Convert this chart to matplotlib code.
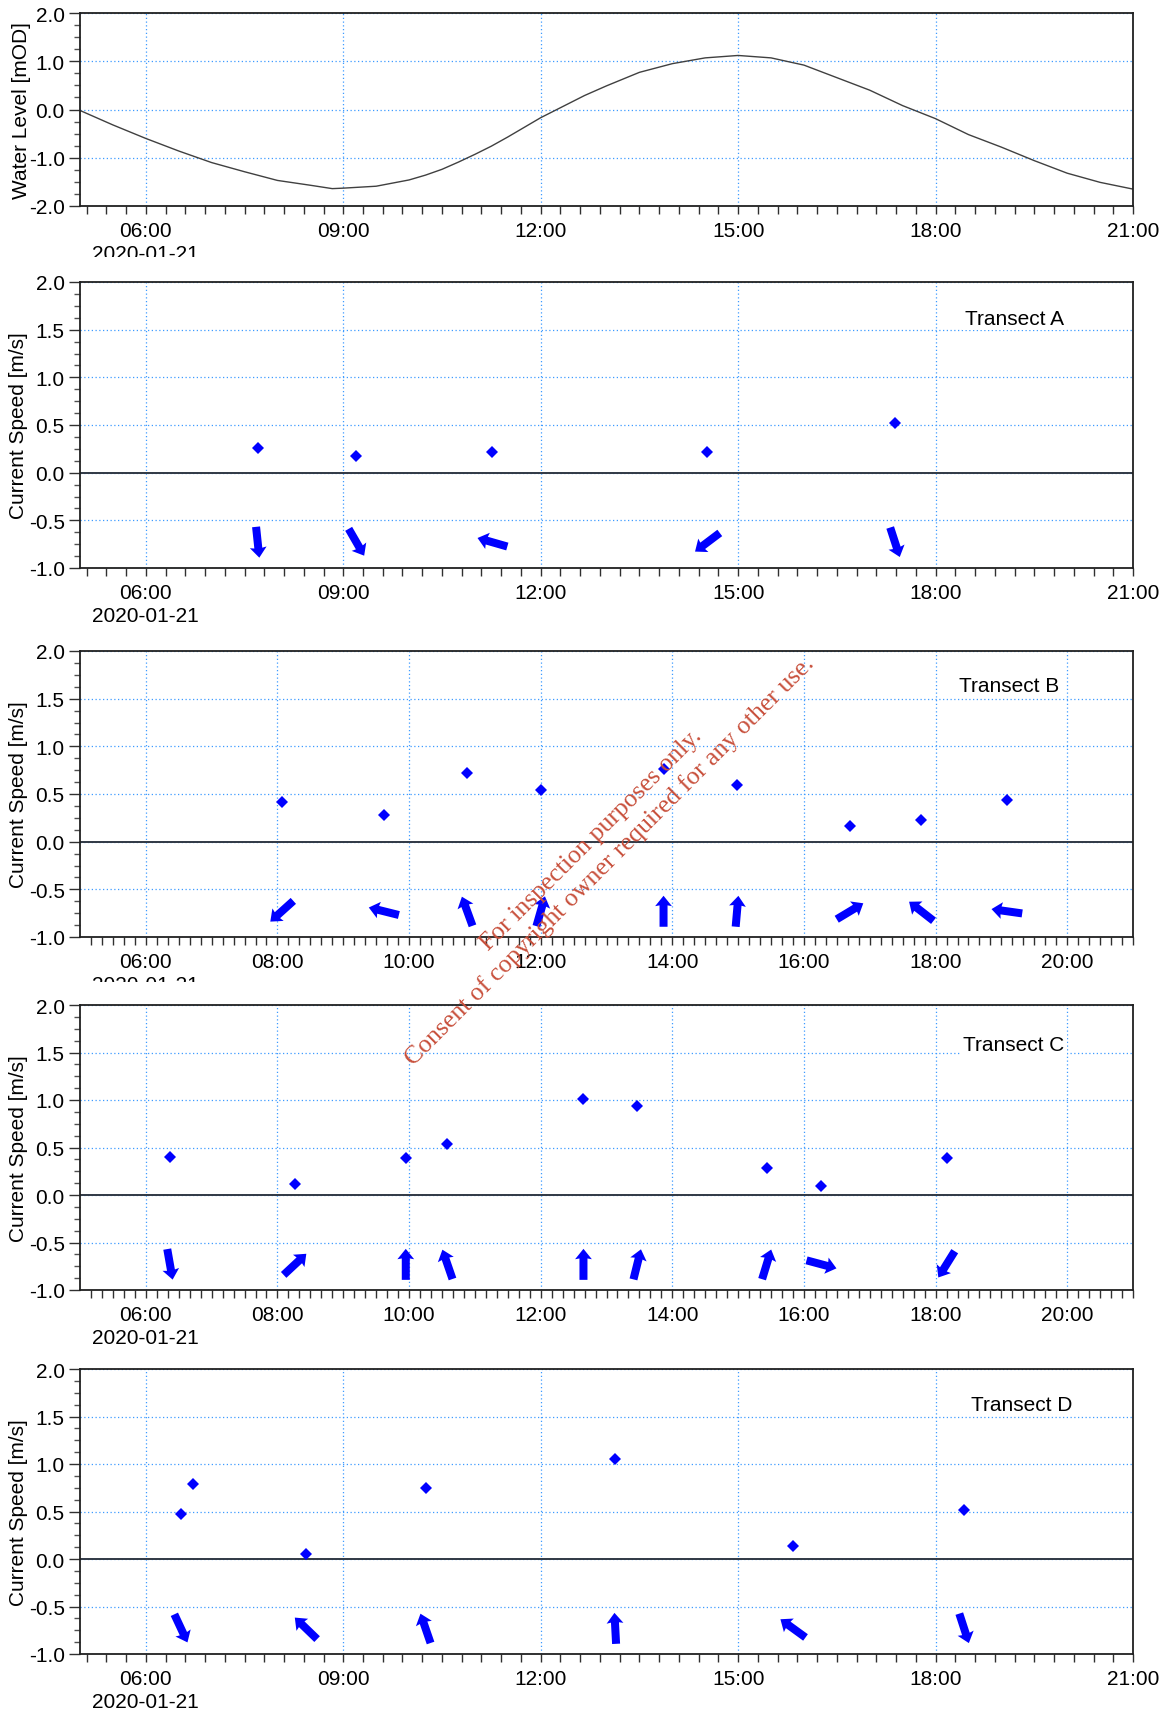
import numpy as np
import pandas as pd
import matplotlib
matplotlib.use('Agg')
import matplotlib.pyplot as plt
import matplotlib.dates as mdates
import matplotlib.ticker as mticker
from matplotlib.patches import Rectangle

plt.rcParams['font.family'] = ['Liberation Sans', 'DejaVu Sans']
plt.rcParams['axes.unicode_minus'] = False

DAY = '2020-01-21 '

# water level (mOD)
level_times = ['05:00', '05:30', '06:00', '06:30', '07:00', '07:30', '08:00', '08:30',
               '08:50', '09:00', '09:30', '10:00', '10:15', '10:30', '10:45', '11:00',
               '11:15', '11:30', '12:00', '12:20', '12:40', '13:00', '13:30', '14:00',
               '14:30', '15:00', '15:30', '16:00', '16:30', '17:00', '17:30', '18:00',
               '18:30', '19:00', '19:30', '20:00', '20:30', '21:00']
level_values = [-0.02, -0.32, -0.60, -0.86, -1.10, -1.29, -1.47, -1.57,
                -1.64, -1.63, -1.59, -1.46, -1.36, -1.24, -1.09, -0.93,
                -0.76, -0.57, -0.17, 0.06, 0.29, 0.49, 0.77, 0.95,
                1.07, 1.12, 1.07, 0.92, 0.66, 0.40, 0.08, -0.19,
                -0.52, -0.78, -1.06, -1.32, -1.51, -1.65]

# transects: time, speed (m/s), direction (deg from north)
a_times = ['07:42', '09:12', '11:16', '14:32', '17:23']
a_speed = [0.26, 0.18, 0.22, 0.22, 0.52]
a_dir = [174, 150, 286, 233, 162]

b_times = ['08:04', '09:37', '10:53', '12:00', '13:52', '14:59', '16:42', '17:47', '19:05']
b_speed = [0.42, 0.28, 0.72, 0.54, 0.76, 0.59, 0.16, 0.23, 0.44]
b_dir = [228, 284, 340, 16, 0, 5, 59, 308, 278]

c_times = ['06:22', '08:16', '09:57', '10:35', '12:39', '13:28', '15:26', '16:16', '18:10']
c_speed = [0.40, 0.12, 0.39, 0.54, 1.01, 0.94, 0.28, 0.10, 0.39]
c_dir = [170, 47, 0, 341, 0, 14, 17, 105, 212]

d_times = ['06:32', '06:43', '08:26', '10:15', '13:08', '15:50', '18:26']
d_speed = [0.47, 0.79, 0.05, 0.75, 1.05, 0.14, 0.52]
d_dir = [155, np.nan, 314, 341, 357, 306, 162]

labels = ['Transect A', 'Transect B', 'Transect C', 'Transect D']


def to_num(times):
    return mdates.date2num(pd.to_datetime([DAY + t for t in times]))


def time_label(x, pos):
    minutes = int(round((x - np.floor(x)) * 1440)) % 1440
    return '%02d:%02d' % (minutes // 60, minutes % 60)


W, H = 1164, 1715
FS = 15
fig = plt.figure(figsize=(W / 100, H / 100), dpi=100)
t0, t1 = to_num(['05:00', '21:00'])
t6 = to_num(['06:00'])[0]
grid_col = '#3d9bff'


def make_axes(top, bottom, ylim, ymaj, ymin, hour_step, minor_step, first_minor):
    ax = fig.add_axes([80 / W, 1 - bottom / H, 1053 / W, (bottom - top) / H])
    ax.set_xlim(t0, t1)
    ax.set_ylim(*ylim)
    ax.yaxis.set_major_locator(mticker.MultipleLocator(ymaj))
    ax.yaxis.set_minor_locator(mticker.MultipleLocator(ymin))
    ax.yaxis.set_major_formatter(mticker.FormatStrFormatter('%.1f'))
    ax.xaxis.set_major_locator(mdates.HourLocator(byhour=range(6, 22, hour_step)))
    minor = pd.date_range(DAY + first_minor, DAY + '21:00', freq=minor_step)
    ax.xaxis.set_minor_locator(mticker.FixedLocator(mdates.date2num(minor)))
    ax.xaxis.set_major_formatter(mticker.FuncFormatter(time_label))
    ax.grid(True, which='major', color=grid_col, linestyle=(0, (1, 2)), lw=0.9)
    ax.tick_params(axis='x', which='both', direction='out', length=6, width=1,
                   color='#303030', labelsize=FS, pad=5)
    ax.tick_params(axis='y', which='major', direction='out', length=8, width=1,
                   color='#303030', labelsize=FS, pad=3)
    ax.tick_params(axis='y', which='minor', direction='out', length=4, width=1,
                   color='#505050')
    for sp in ax.spines.values():
        sp.set_color('#202020')
        sp.set_linewidth(1.3)
    # date under the 06:00 tick
    ax.annotate('2020-01-21', xy=(t6, 0), xycoords=('data', 'axes fraction'),
                xytext=(0, -48), textcoords='offset pixels', ha='center', va='center',
                fontsize=FS, annotation_clip=False)
    return ax


# water level panel
ax0 = make_axes(14, 207, (-2, 2), 1.0, 0.25, 3, '18min', '05:06')
ax0.plot(to_num(level_times), level_values, color='#404040', lw=1.0)
ax0.set_ylabel('Water Level [mOD]', fontsize=FS)
ax0.yaxis.set_label_coords(-0.047, 0.5)

panels = [
    (283, 569, 3, '18min', '05:06', a_times, a_speed, a_dir, (0.887, 0.874)),
    (652, 938, 2, '10min', '05:10', b_times, b_speed, b_dir, (0.882, 0.878)),
    (1006, 1291, 2, '10min', '05:10', c_times, c_speed, c_dir, (0.887, 0.860)),
    (1370, 1655, 3, '18min', '05:06', d_times, d_speed, d_dir, (0.894, 0.874)),
]

L = 31
for (top, bottom, hstep, mstep, mfirst, times, speed, dirs, lab), name in zip(panels, labels):
    ax = make_axes(top, bottom, (-1, 2), 0.5, 0.125, hstep, mstep, mfirst)
    x = to_num(times)
    ax.axhline(0, color='#303844', lw=1.4, zorder=2)
    ax.plot(x, speed, 'D', color='blue', markersize=6.5, markeredgewidth=0, zorder=4)
    d = np.array(dirs, dtype=float)
    ok = ~np.isnan(d)
    rad = np.deg2rad(d[ok])
    ax.quiver(x[ok], np.full(ok.sum(), -0.73), L * np.sin(rad), L * np.cos(rad),
              angles='uv', pivot='middle', units='dots', scale_units='dots', scale=1,
              width=8, headwidth=2.1, headlength=1.3, headaxislength=1.2,
              color='blue', zorder=5)
    ax.text(lab[0], lab[1], name, transform=ax.transAxes, ha='center', va='center',
            fontsize=FS, zorder=6,
            bbox=dict(facecolor='white', edgecolor='none', pad=1.5))
    ax.set_ylabel('Current Speed [m/s]', fontsize=FS)
    ax.yaxis.set_label_coords(-0.049, 0.5)

# the source panels were cropped just under some date labels
for y0, y1 in [(258, 275), (983, 998)]:
    fig.add_artist(Rectangle((0, 1 - y1 / H), 420 / W, (y1 - y0) / H,
                             transform=fig.transFigure, facecolor='white',
                             edgecolor='none', zorder=10))

# watermark
wm_col = '#c8503c'
wm_font = ['Liberation Serif', 'DejaVu Serif']
fig.text(591 / W, 1 - 840 / H, 'For inspection purposes only.', color=wm_col,
         family=wm_font, fontsize=18.5, rotation=45,
         rotation_mode='anchor', ha='center', va='center', zorder=20)
fig.text(610 / W, 1 - 861 / H, 'Consent of copyright owner required for any other use.',
         color=wm_col, family=wm_font, fontsize=18.5,
         rotation=45, rotation_mode='anchor', ha='center', va='center', zorder=20)

fig.savefig('out.png', dpi=100, facecolor='white')
